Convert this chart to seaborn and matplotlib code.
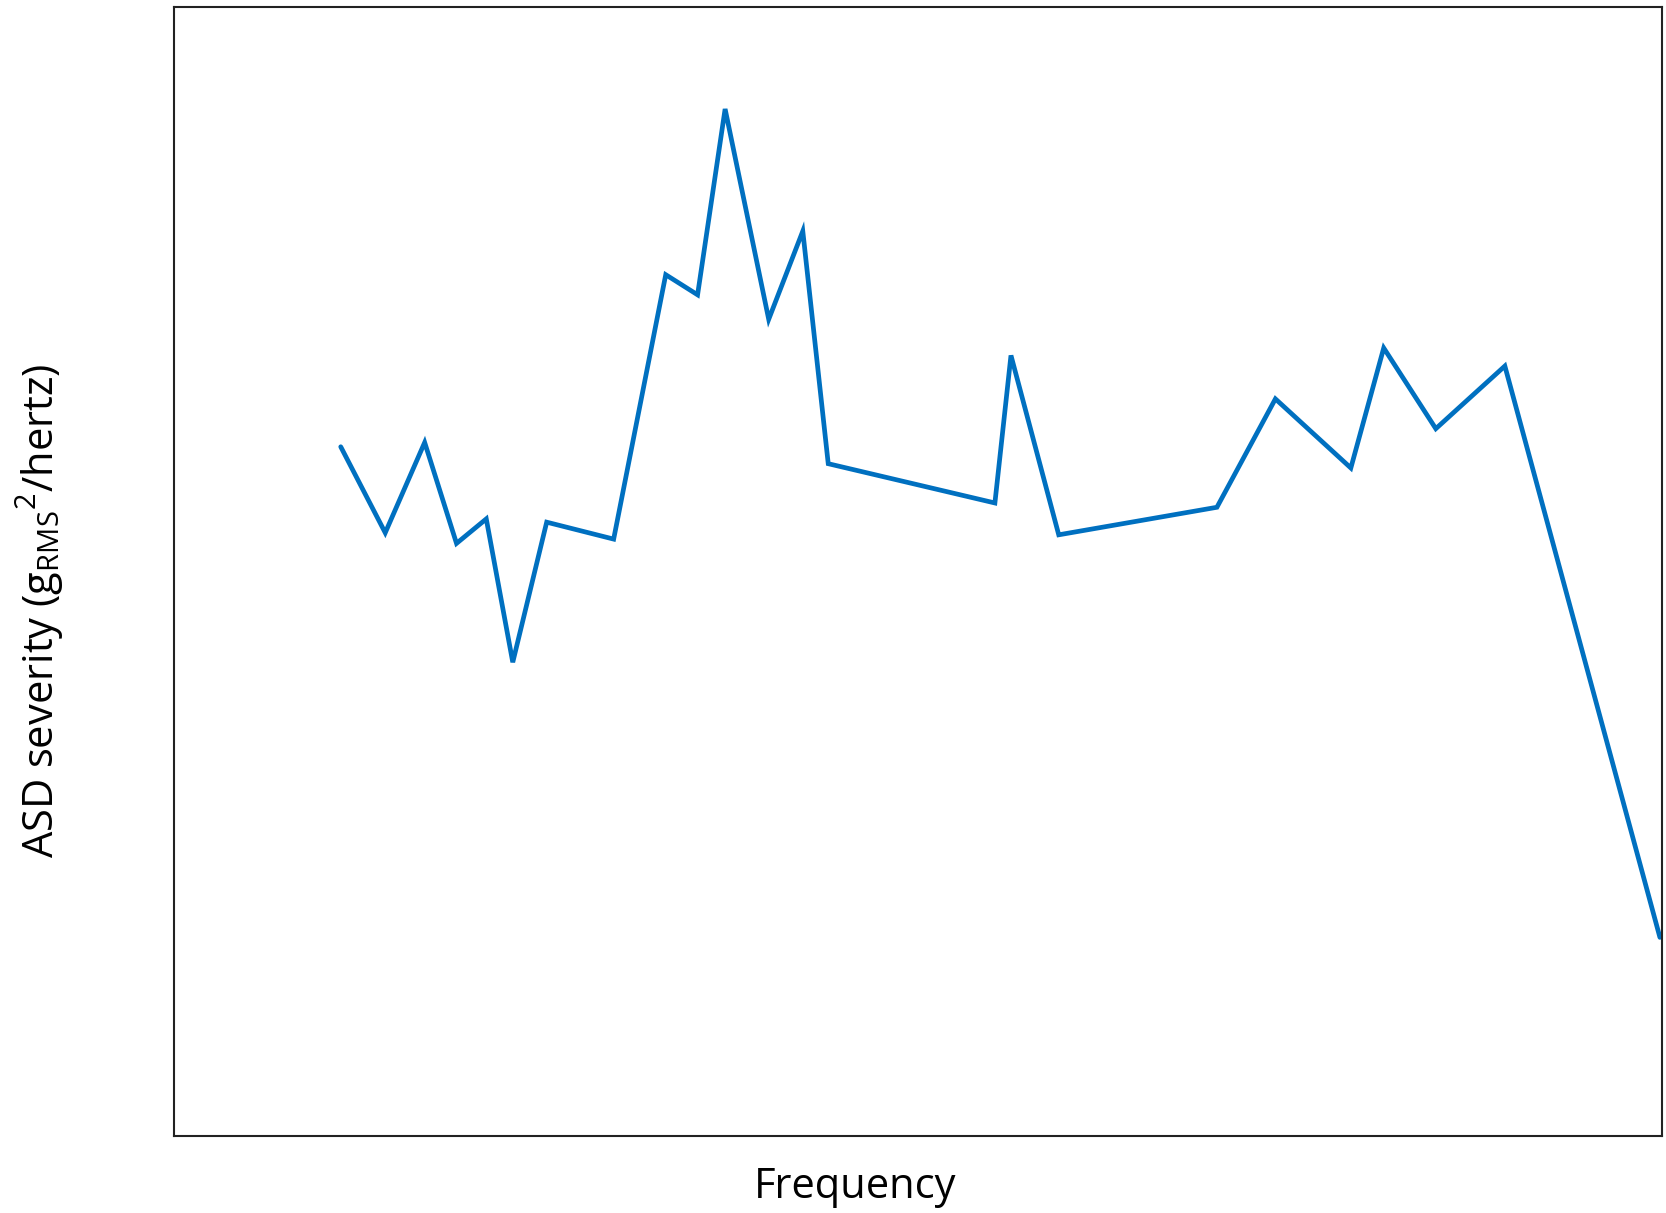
import matplotlib
matplotlib.use("Agg")
import matplotlib.pyplot as plt
import seaborn as sns
import pandas as pd

# Vibration test profile (relative units; axes carry no tick values)
frequency = [11.21, 14.20, 16.85, 18.99, 20.99, 22.77, 25.05, 29.55, 33.05, 35.19,
             37.04, 39.97, 42.26, 43.97, 55.17, 56.25, 59.46, 70.09, 74.02, 79.09,
             81.30, 84.80, 89.44, 99.86]
severity = [61.05, 53.43, 61.43, 52.49, 54.66, 41.96, 54.37, 52.87, 76.29, 74.51,
            90.97, 72.34, 80.15, 59.55, 56.07, 69.14, 53.25, 55.69, 65.29, 59.17,
            69.80, 62.65, 68.20, 17.59]

df = pd.DataFrame({"Frequency": frequency, "Severity": severity})

sns.set_style("white")
plt.rcParams["font.family"] = ["Open Sans", "DejaVu Sans"]
plt.rcParams["mathtext.fontset"] = "custom"
plt.rcParams["mathtext.rm"] = "Open Sans"

fig = plt.figure(figsize=(16.66, 12.13), dpi=100)
ax = fig.add_axes([0.1044, 0.0635, 0.8932, 0.9307])

sns.lineplot(data=df, x="Frequency", y="Severity", ax=ax, sort=False,
             color="#0070C0", linewidth=3.4, solid_joinstyle="miter")

ax.set_xlim(0, 100)
ax.set_ylim(0, 100)
ax.set_xticks([])
ax.set_yticks([])

for side in ["left", "right", "top", "bottom"]:
    ax.spines[side].set_visible(True)
    ax.spines[side].set_color("#222222")
    ax.spines[side].set_linewidth(1.5)

ax.set_xlabel("Frequency", fontsize=30, color="black")
ax.set_ylabel(r"ASD severity (g$_{\mathregular{RMS}}$$^{\mathregular{2}}$/hertz)",
              fontsize=30, color="black")
ax.yaxis.set_label_coords(-0.0725, 0.465)
ax.xaxis.set_label_coords(0.458, -0.027)

fig.savefig("out.png", dpi=100)
